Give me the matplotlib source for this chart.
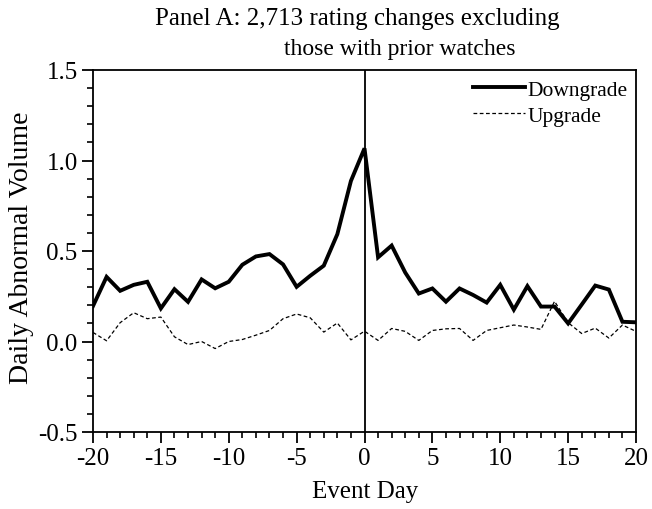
import matplotlib
matplotlib.use("Agg")
import matplotlib.pyplot as plt
from matplotlib.ticker import MultipleLocator

plt.rcParams['font.family'] = ['Liberation Serif', 'DejaVu Serif']
plt.rcParams['axes.unicode_minus'] = False

event_day = list(range(-20, 21))
downgrade = [0.196, 0.357, 0.28, 0.313, 0.33, 0.183, 0.289, 0.219, 0.343, 0.294,
             0.33, 0.424, 0.47, 0.483, 0.426, 0.302, 0.363, 0.419, 0.593, 0.887,
             1.067, 0.465, 0.53, 0.381, 0.265, 0.293, 0.22, 0.293, 0.257, 0.215,
             0.313, 0.176, 0.306, 0.193, 0.193, 0.1, 0.204, 0.309, 0.287, 0.109, 0.106]
upgrade = [0.05, 0.004, 0.104, 0.159, 0.126, 0.135, 0.026, -0.017, 0.0, -0.039,
           0.0, 0.011, 0.035, 0.061, 0.126, 0.152, 0.131, 0.052, 0.102, 0.009,
           0.057, 0.006, 0.072, 0.056, 0.006, 0.061, 0.07, 0.072, 0.006, 0.061,
           0.076, 0.091, 0.08, 0.067, 0.222, 0.104, 0.044, 0.074, 0.019, 0.091, 0.056]
x_ticks = [-20, -15, -10, -5, 0, 5, 10, 15, 20]
y_ticks = [-0.5, 0.0, 0.5, 1.0, 1.5]

W, H = 652, 510
fig = plt.figure(figsize=(W / 100, H / 100), dpi=100)
left, right, top, bottom = 93, 636, 71, 433
ax = fig.add_axes([left / W, 1 - bottom / H, (right - left) / W, (bottom - top) / H])

ax.plot(event_day, downgrade, color='black', lw=2.8, label='Downgrade', solid_joinstyle='miter')
ax.plot(event_day, upgrade, color='black', lw=0.9, ls=(0, (3, 2)), label='Upgrade')
ax.axvline(0, color='black', lw=1.3)

ax.set_xlim(-20, 20)
ax.set_ylim(-0.5, 1.5)
ax.set_xticks(x_ticks)
ax.set_yticks(y_ticks)
ax.set_yticklabels([f"{v:.1f}" for v in y_ticks])
ax.xaxis.set_minor_locator(MultipleLocator(1))
ax.yaxis.set_minor_locator(MultipleLocator(0.1))
ax.tick_params(which='major', direction='out', length=8, width=1.3, labelsize=18, top=False, right=False, pad=3)
ax.tick_params(which='minor', direction='out', length=4, width=1.2, top=False, right=False)
for s in ax.spines.values():
    s.set_linewidth(1.3)

fig.text((312 + 418) / 2 / W, 1 - 498 / H, 'Event Day', ha='center', va='baseline', fontsize=18)
fig.text(22 / W, 1 - 248 / H, 'Daily Abnormal Volume', ha='center', va='center', rotation=90, fontsize=20)

fig.text(155 / W, 1 - 25 / H, 'Panel A: 2,713 rating changes excluding', ha='left', va='baseline', fontsize=18)
fig.text(400 / W, 1 - 55 / H, 'those with prior watches', ha='center', va='baseline', fontsize=17)

leg = ax.legend(loc='upper right', frameon=False, fontsize=15.5, handlelength=2.4, handletextpad=0.1,
                bbox_to_anchor=(1.0, 0.997), borderaxespad=0.2, labelspacing=0.28, borderpad=0.2)

fig.savefig('out.png', dpi=100)
